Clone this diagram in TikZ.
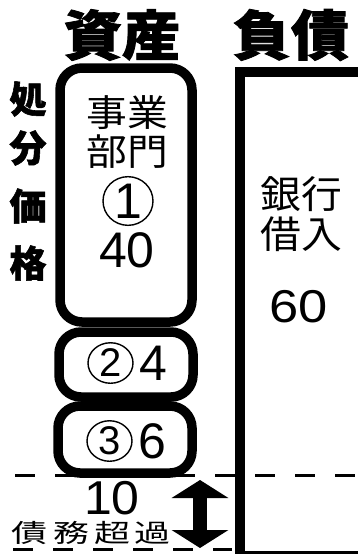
\documentclass[tikz,border=0pt]{standalone}
\usepackage{fontspec}
\usepackage{graphicx}
\setmainfont{Liberation Sans}
\newfontfamily\jp{Noto Sans CJK JP}
\newfontfamily\jph[FakeBold=1.5]{Noto Sans CJK JP}
\usetikzlibrary{arrows.meta,shapes.geometric}
\newcommand{\fs}[1]{\fontsize{#1}{#1}\selectfont}
\begin{document}
\begin{tikzpicture}[x=1pt,y=1pt,
  abox/.style={draw, line width=9.5pt, rounded corners=22pt, inner sep=0pt},
  dline/.style={line width=3pt, dash pattern=on 20pt off 20pt},
  txt/.style={inner sep=0pt, anchor=center},
  hdr/.style={txt, font=\jph\bfseries\fs{54}},
  side/.style={txt, font=\jph\bfseries\fs{37}},
  jtx/.style={txt, font=\jp\fs{40}},
  num/.style={txt, font=\fs{50}},
  cnum/.style={draw, ellipse, line width=1.4pt, inner sep=0pt, minimum width=#1, minimum height=0.9*#1},
  btx/.style={txt, font=\jp\fs{36}}
]
\useasboundingbox (0,0) rectangle (358,-554);
\clip (0,0) rectangle (358,-554);

% dashed lines
\coordinate (d1a) at (15,-475);
\coordinate (d1b) at (372,-475);
\coordinate (d2a) at (13,-549);
\coordinate (d2b) at (232,-549);
\draw[dline] (d1a) -- (d1b);
\draw[dline] (d2a) -- (d2b);

% liabilities rectangle
\node[draw, line width=10pt, inner sep=0pt, minimum width=160pt, minimum height=484pt, anchor=north west] (liab) at (235,-67) {};

% asset boxes
\node[abox, minimum width=132pt, minimum height=254pt] (b1) at (126,-195) {};
\node[abox, minimum width=134pt, minimum height=65pt] (b2) at (126,-364.5) {};
\node[abox, minimum width=134pt, minimum height=67pt] (b3) at (125,-439.5) {};

% headers
\node[hdr] (h1) at (122,-35) {\scalebox{1.08}[1]{資産}};
\node[hdr] (h2) at (291,-35) {\scalebox{1.08}[1]{負債}};

% side label
\node[side] (s1) at (28,-99) {処};
\node[side] (s2) at (28,-148) {分};
\node[side] (s3) at (28,-206) {価};
\node[side] (s4) at (28,-263) {格};

% box 1 text
\node[jtx] (t1) at (127,-113) {\scalebox{1.02}[0.92]{事業}};
\node[jtx] (t2) at (127,-152) {\scalebox{1.02}[0.92]{部門}};
\node[cnum=50pt, font=\fs{50}] (c1) at (128,-201) {1};
\node[num] (n1) at (127,-250) {40};

% box 2,3 text
\node[cnum=45pt, font=\fs{40}] (c2) at (110.5,-363) {2};
\node[num] (n2) at (153.5,-363.5) {4};
\node[cnum=45pt, font=\fs{40}] (c3) at (109.5,-441) {3};
\node[num] (n3) at (152,-441) {6};

% right box text
\node[jtx] (r1) at (301,-194) {\scalebox{1.02}[0.95]{銀行}};
\node[jtx] (r2) at (301,-234) {\scalebox{1.02}[0.95]{借入}};
\node[num] (n4) at (299,-307) {\scalebox{1.05}[0.92]{60}};

% bottom
\node[num] (n5) at (112,-498) {\scalebox{1}[0.95]{10}};
\node[btx] (u1) at (30,-533) {\scalebox{1.0}[0.7]{債}};
\node[btx] (u2) at (71,-533) {\scalebox{1.0}[0.7]{務}};
\node[btx] (u3) at (112,-533) {\scalebox{1.0}[0.7]{超}};
\node[btx] (u4) at (152,-533) {\scalebox{1.0}[0.7]{過}};

% double arrow
\coordinate (at) at (200,-480);
\coordinate (ab) at (200,-548);
\draw[line width=14pt, {Triangle[width=56pt,length=18pt]}-{Triangle[width=56pt,length=18pt]}] (at) -- (ab);
\end{tikzpicture}
\end{document}
